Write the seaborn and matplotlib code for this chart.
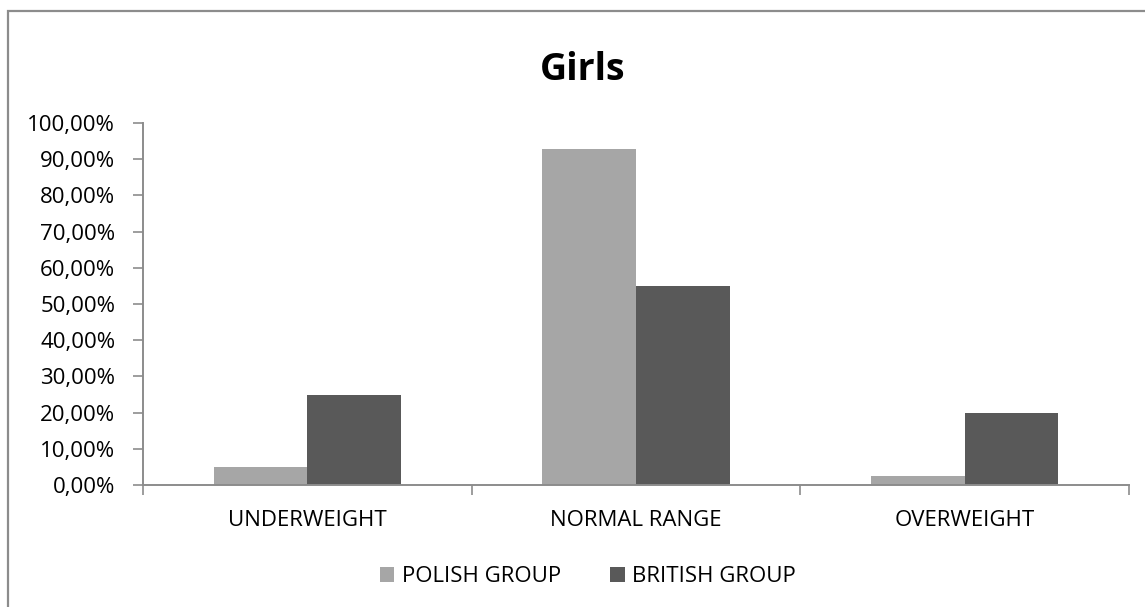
import matplotlib
matplotlib.use("Agg")
import matplotlib.pyplot as plt
from matplotlib.ticker import FuncFormatter, FixedLocator, NullFormatter
from matplotlib.patches import Rectangle
import seaborn as sns
import pandas as pd

categories = ["UNDERWEIGHT", "NORMAL RANGE", "OVERWEIGHT"]
groups = ["POLISH GROUP", "BRITISH GROUP"]
polish_values = [5.0, 92.86, 2.5]
british_values = [25.0, 55.0, 20.0]
y_ticks = [0, 10, 20, 30, 40, 50, 60, 70, 80, 90, 100]

df = pd.DataFrame({
    "category": categories * 2,
    "group": [groups[0]] * 3 + [groups[1]] * 3,
    "value": polish_values + british_values,
})

sns.set_theme(style="white")
plt.rcParams["font.family"] = ["Open Sans", "DejaVu Sans"]

W, H = 1145, 607
fig = plt.figure(figsize=(W / 100, H / 100), dpi=100)
fig.patch.set_facecolor("white")

# outer chart frame
fig.add_artist(Rectangle((7.5 / W, -0.1), 1.2, 1 - 10.5 / H + 0.1,
                         transform=fig.transFigure, fill=False,
                         edgecolor="#8c8c8c", linewidth=1.6))

ax = fig.add_axes([143 / W, 1 - 485 / H, (1129 - 143) / W, (485 - 123) / H])

palette = {groups[0]: "#a6a6a6", groups[1]: "#595959"}
sns.barplot(data=df, x="category", y="value", hue="group", order=categories,
            hue_order=groups, palette=palette, width=0.57, saturation=1,
            linewidth=0, ax=ax, legend=True)

ax.set_xlim(-0.5, 2.5)
ax.set_ylim(0, 100)
ax.set_yticks(y_ticks)
ax.yaxis.set_major_formatter(FuncFormatter(lambda v, _: f"{v:.2f}%".replace(".", ",")))
ax.set_xlabel("")
ax.set_ylabel("")

spine_color = "#8c8c8c"
for side in ["top", "right"]:
    ax.spines[side].set_visible(False)
for side in ["left", "bottom"]:
    ax.spines[side].set_color(spine_color)
    ax.spines[side].set_linewidth(1.4)

ax.tick_params(axis="y", which="major", direction="out", length=7, width=1.2,
               color=spine_color, labelsize=16, labelcolor="#000000", pad=13, left=True)
ax.tick_params(axis="x", which="major", length=0, labelsize=16,
               labelcolor="#000000", pad=18)
ax.xaxis.set_minor_locator(FixedLocator([-0.5, 0.5, 1.5, 2.5]))
ax.xaxis.set_minor_formatter(NullFormatter())
ax.tick_params(axis="x", which="minor", direction="out", length=7, width=1.2,
               color=spine_color, bottom=True)
ax.grid(False)

fig.text(583 / W, 1 - 70 / H, "Girls", fontsize=27, fontweight="bold",
         color="#000000", ha="center", va="center")

handles, labels = ax.get_legend_handles_labels()
ax.get_legend().remove()
leg = fig.legend(handles, labels, loc="center", bbox_to_anchor=(588 / W, 1 - 577 / H),
                 ncol=2, frameon=False, fontsize=16, handlelength=0.65, handleheight=0.65,
                 handletextpad=0.35, columnspacing=2.2)
for t in leg.get_texts():
    t.set_color("#000000")

fig.savefig("out.png", dpi=100, facecolor="white")
